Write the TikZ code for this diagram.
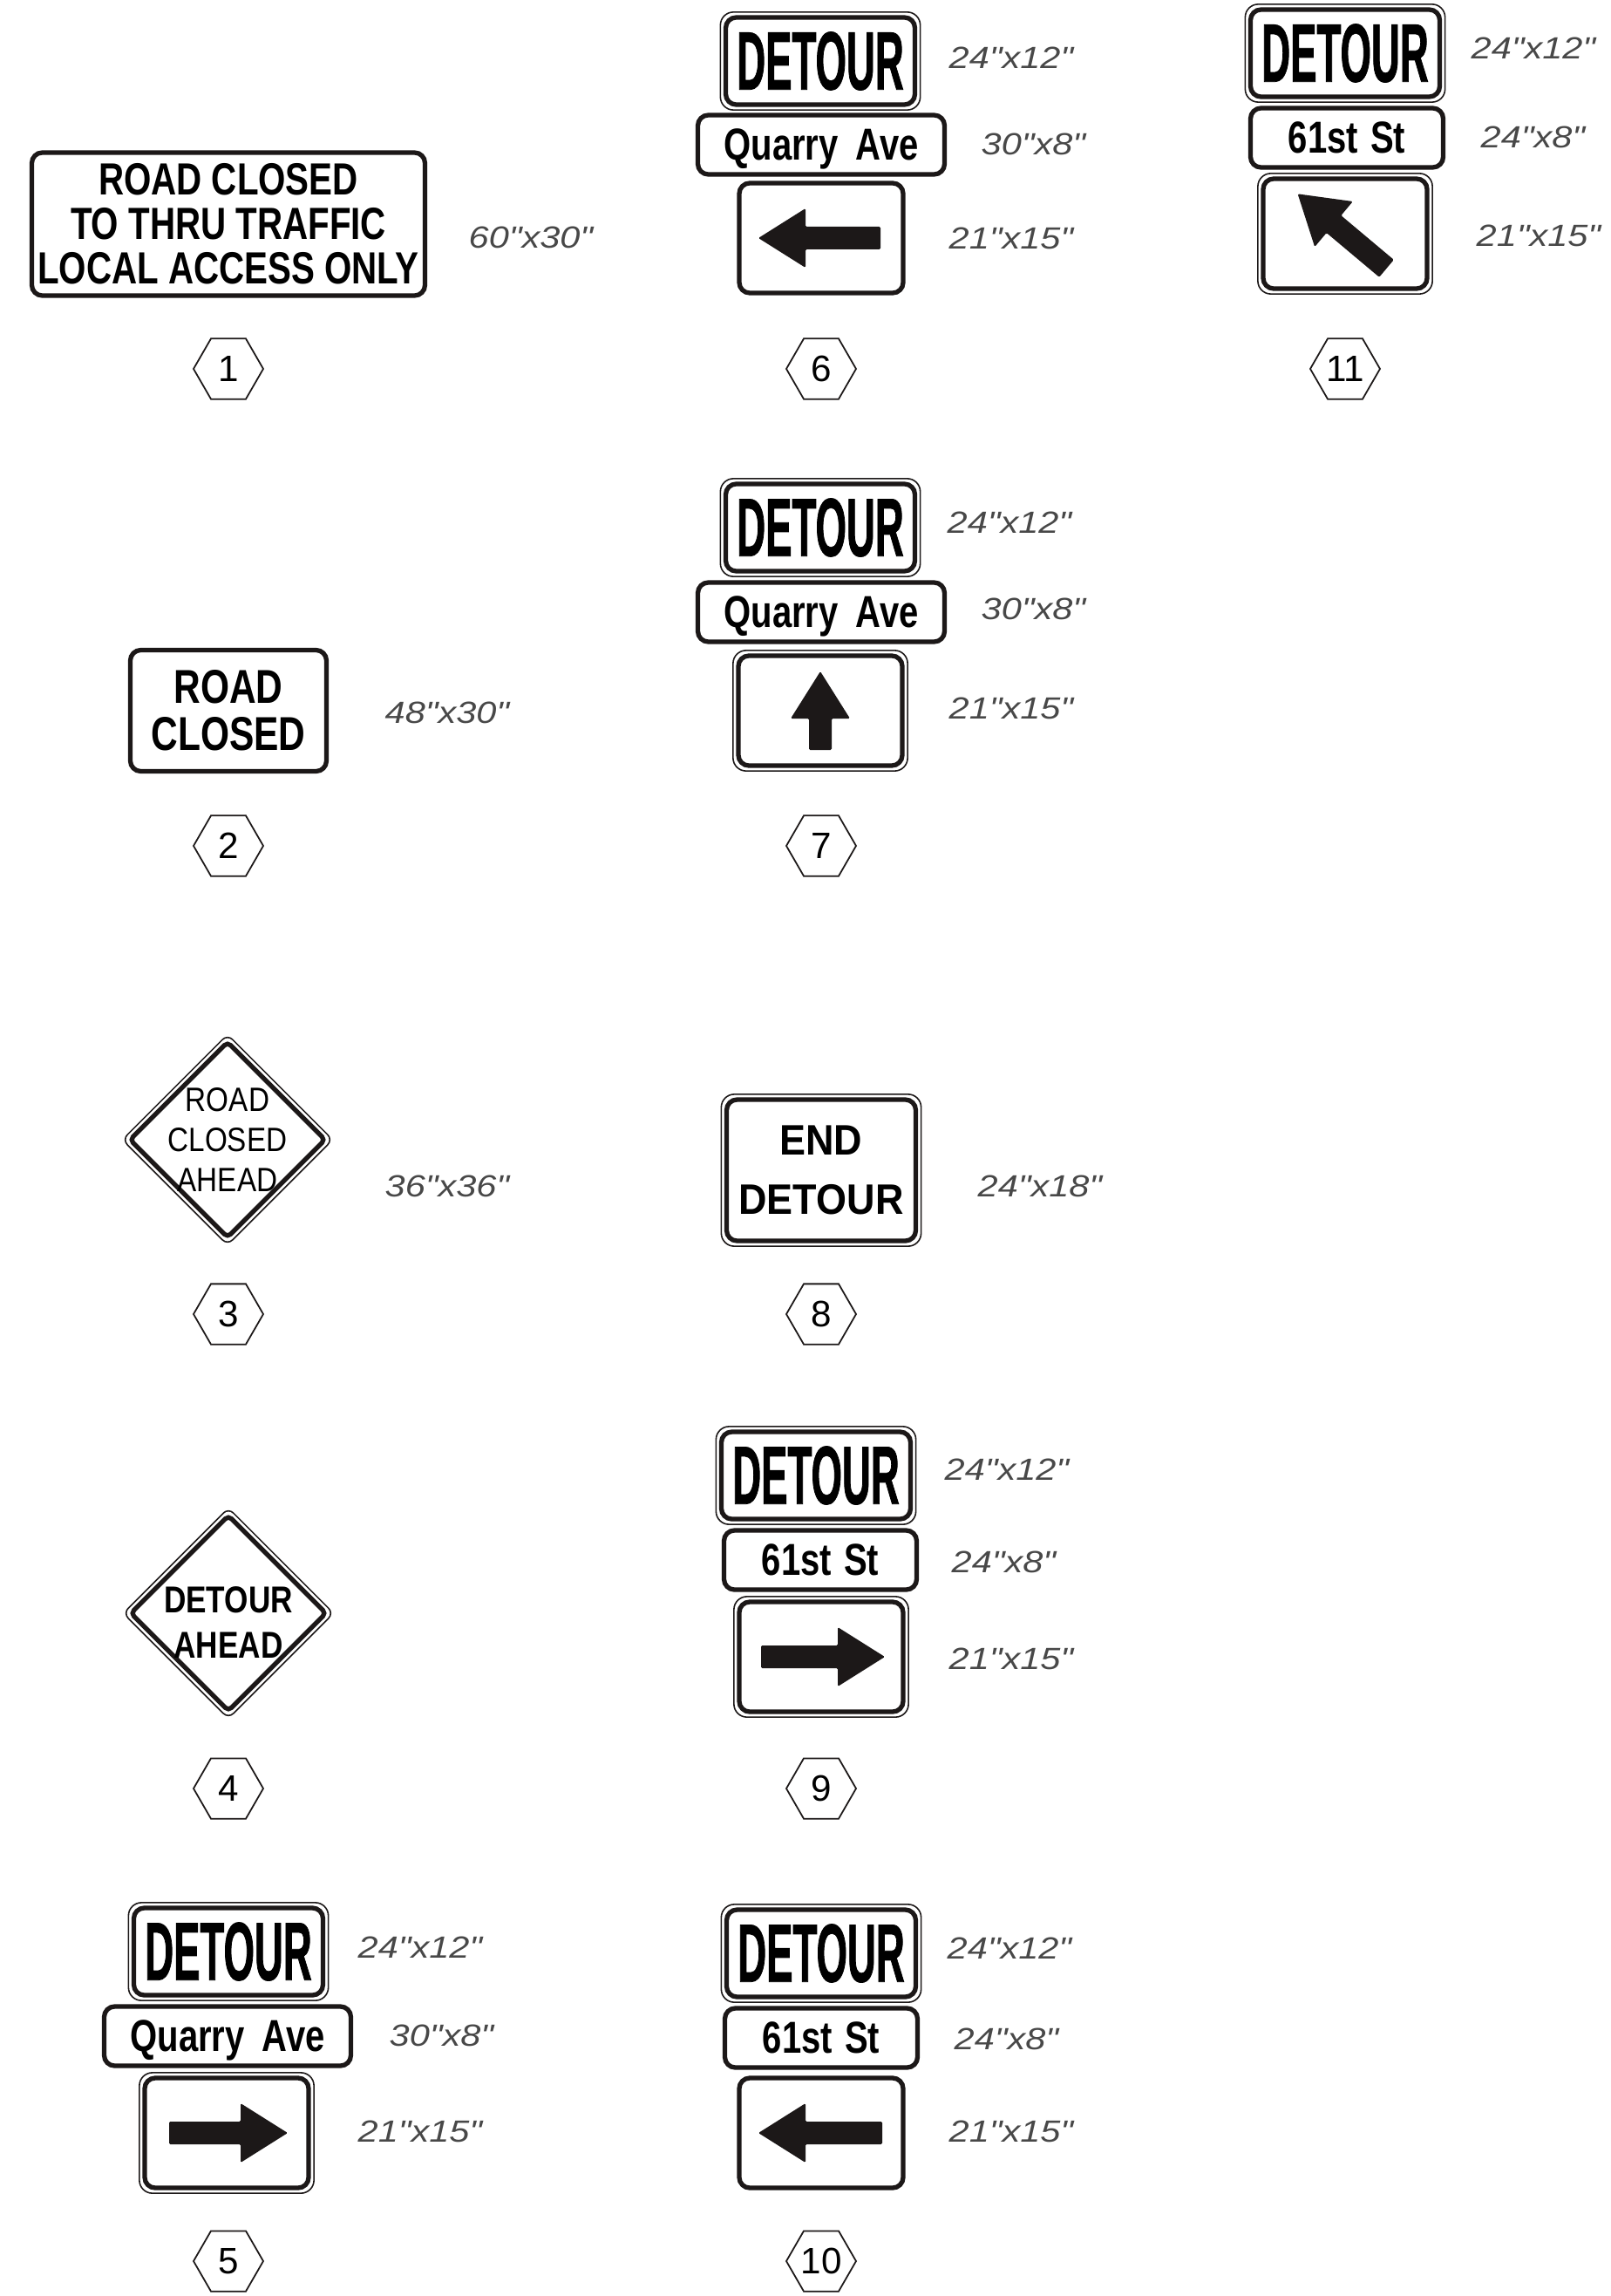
\documentclass[tikz,border=0pt]{standalone}
\usepackage{fontspec}
\usetikzlibrary{shapes.geometric,positioning}
\newfontfamily\gothB{Liberation Sans}[FakeStretch=0.48,FakeBold=0.8]
\newfontfamily\gothC{Liberation Sans}[FakeStretch=0.78]
\newfontfamily\gothD{Liberation Sans}[FakeStretch=0.82]
\newfontfamily\gothE{Liberation Sans}[FakeStretch=0.92]
\newfontfamily\helvN{Liberation Sans}[FakeStretch=0.86]
\newfontfamily\dimfont{Liberation Sans}[FakeStretch=1.18,Ligatures=TeXOff]
\newfontfamily\tagfont{Liberation Sans}
\definecolor{ink}{RGB}{28,24,24}
\definecolor{dimgray}{RGB}{72,72,72}

% thin outer rim round a panel
\newcommand{\panelrim}[1]{%
  \draw[ink, line width=0.45pt, rounded corners=0.15cm]
    ([shift={(-0.035,0.035)}]#1.north west) rectangle ([shift={(0.035,-0.035)}]#1.south east);}
\newcommand{\diarim}[1]{%
  \draw[ink, line width=0.45pt, rounded corners=0.08cm]
    ([yshift=0.05cm]#1.north) -- ([xshift=0.05cm]#1.east) -- ([yshift=-0.05cm]#1.south)
    -- ([xshift=-0.05cm]#1.west) -- cycle;}
% arrow on a panel: panel, angle, tip, tail
\newcommand{\signarrow}[4]{%
  \fill[ink, shift={(#1.center)}, rotate=#2, rounded corners=0.4pt]
    (#3,0) -- ({#3-0.54},0.34) -- ({#3-0.54},0.13) -- (-#4,0.13) -- (-#4,-0.13)
    -- ({#3-0.54},-0.13) -- ({#3-0.54},-0.34) -- cycle;}

\begin{document}
\begin{tikzpicture}[
  panel/.style={draw=ink, line width=1.5pt, rounded corners=0.12cm, fill=white, inner sep=0pt, align=center},
  detour/.style={panel, minimum width=2.17cm, minimum height=1.00cm, font=\gothB\bfseries\fontsize{27}{28}\selectfont},
  street/.style={panel, minimum height=0.68cm, text depth=0pt, font=\gothC\bfseries\fontsize{14.6}{15}\selectfont},
  arrowbox/.style={panel, minimum width=1.88cm, minimum height=1.26cm},
  dia/.style={diamond, draw=ink, line width=1.5pt, rounded corners=0.05cm, minimum width=2.26cm, minimum height=2.26cm, inner sep=0pt},
  dim/.style={anchor=west, inner sep=0pt, text=dimgray, font=\dimfont\itshape\fontsize{10}{11}\selectfont},
  tag/.style={regular polygon, regular polygon sides=6, draw=ink, line width=0.5pt, minimum size=0.8cm, inner sep=0pt, font=\tagfont\fontsize{12}{12}\selectfont}
]
\useasboundingbox[fill=white] (0,0) rectangle (18.48,-26.33);

% Left column
\node[panel, minimum width=4.51cm, minimum height=1.64cm, font=\gothC\bfseries\fontsize{14.7}{14.5}\selectfont] (s1) at (2.62,-2.57) {ROAD CLOSED\\TO THRU TRAFFIC\\LOCAL ACCESS ONLY};
\node[dim] (d1) at (5.37,-2.72) {60"x30"};
\node[tag] (t1) at (2.62,-4.23) {1};

\node[panel, minimum width=2.25cm, minimum height=1.39cm, font=\gothC\bfseries\fontsize{15.5}{15.4}\selectfont] (s2) at (2.62,-8.15) {ROAD\\CLOSED};
\node[dim] (d2) at (4.41,-8.17) {48"x30"};
\node[tag] (t2) at (2.62,-9.70) {2};

\node[dia] (s3) at (2.61,-13.07) {};
\diarim{s3}
\node[align=center, inner sep=0pt, font=\helvN\fontsize{11}{13.2}\selectfont] (s3txt) at (s3.center) {ROAD\\CLOSED\\AHEAD};
\node[dim] (d3) at (4.41,-13.60) {36"x36"};
\node[tag] (t3) at (2.62,-15.07) {3};

\node[dia] (s4) at (2.62,-18.50) {};
\diarim{s4}
\node[align=center, inner sep=0pt, font=\gothD\bfseries\fontsize{12.2}{14.8}\selectfont] (s4txt) at ([yshift=-0.11cm]s4.center) {DETOUR\\AHEAD};
\node[tag] (t4) at (2.62,-20.51) {4};

\node[detour] (det5) at (2.62,-22.38) {DETOUR};
\node[street, minimum width=2.83cm] (st5) at (2.61,-23.35) {Quarry\hspace{0.2cm}Ave};
\node[arrowbox] (arr5) at (2.60,-24.46) {};
\panelrim{det5}
\panelrim{arr5}
\signarrow{arr5}{0}{0.70}{0.66}
\node[dim] (d5a) at (4.10,-22.33) {24"x12"};
\node[dim] (d5b) at (4.46,-23.34) {30"x8"};
\node[dim] (d5c) at (4.10,-24.44) {21"x15"};
\node[tag] (t5) at (2.62,-25.93) {5};

% Middle column
\node[detour] (det6) at (9.41,-0.70) {DETOUR};
\node[street, minimum width=2.83cm] (st6) at (9.42,-1.66) {Quarry\hspace{0.2cm}Ave};
\node[arrowbox] (arr6) at (9.42,-2.73) {};
\panelrim{det6}
\signarrow{arr6}{180}{0.72}{0.68}
\node[dim] (d6a) at (10.88,-0.66) {24"x12"};
\node[dim] (d6b) at (11.25,-1.65) {30"x8"};
\node[dim] (d6c) at (10.88,-2.73) {21"x15"};
\node[tag] (t6) at (9.42,-4.23) {6};

\node[detour] (det7) at (9.41,-6.05) {DETOUR};
\node[street, minimum width=2.83cm] (st7) at (9.42,-7.02) {Quarry\hspace{0.2cm}Ave};
\node[arrowbox] (arr7) at (9.41,-8.15) {};
\panelrim{det7}
\panelrim{arr7}
\signarrow{arr7}{90}{0.45}{0.45}
\node[dim] (d7a) at (10.86,-5.99) {24"x12"};
\node[dim] (d7b) at (11.25,-6.98) {30"x8"};
\node[dim] (d7c) at (10.88,-8.12) {21"x15"};
\node[tag] (t7) at (9.42,-9.70) {7};

\node[panel, minimum width=2.17cm, minimum height=1.62cm, font=\gothE\bfseries\fontsize{13.9}{19.3}\selectfont] (s8) at (9.42,-13.42) {END\\DETOUR};
\panelrim{s8}
\node[dim] (d8) at (11.21,-13.60) {24"x18"};
\node[tag] (t8) at (9.42,-15.07) {8};

\node[detour] (det9) at (9.36,-16.92) {DETOUR};
\node[street, minimum width=2.21cm] (st9) at (9.41,-17.89) {61st\hspace{0.14cm}St};
\node[arrowbox] (arr9) at (9.42,-19.00) {};
\panelrim{det9}
\panelrim{arr9}
\signarrow{arr9}{0}{0.73}{0.69}
\node[dim] (d9a) at (10.83,-16.85) {24"x12"};
\node[dim] (d9b) at (10.91,-17.91) {24"x8"};
\node[dim] (d9c) at (10.88,-19.02) {21"x15"};
\node[tag] (t9) at (9.42,-20.51) {9};

\node[detour] (det10) at (9.42,-22.40) {DETOUR};
\node[street, minimum width=2.21cm] (st10) at (9.42,-23.37) {61st\hspace{0.14cm}St};
\node[arrowbox] (arr10) at (9.42,-24.46) {};
\panelrim{det10}
\signarrow{arr10}{180}{0.72}{0.70}
\node[dim] (d10a) at (10.86,-22.34) {24"x12"};
\node[dim] (d10b) at (10.94,-23.38) {24"x8"};
\node[dim] (d10c) at (10.88,-24.44) {21"x15"};
\node[tag] (t10) at (9.42,-25.93) {10};

% Right column
\node[detour] (det11) at (15.43,-0.61) {DETOUR};
\node[street, minimum width=2.21cm] (st11) at (15.45,-1.58) {61st\hspace{0.14cm}St};
\node[arrowbox] (arr11) at (15.43,-2.68) {};
\panelrim{det11}
\panelrim{arr11}
\signarrow{arr11}{140}{0.71}{0.62}
\node[dim] (d11a) at (16.87,-0.55) {24"x12"};
\node[dim] (d11b) at (16.98,-1.57) {24"x8"};
\node[dim] (d11c) at (16.93,-2.70) {21"x15"};
\node[tag] (t11) at (15.43,-4.23) {11};

\end{tikzpicture}
\end{document}
